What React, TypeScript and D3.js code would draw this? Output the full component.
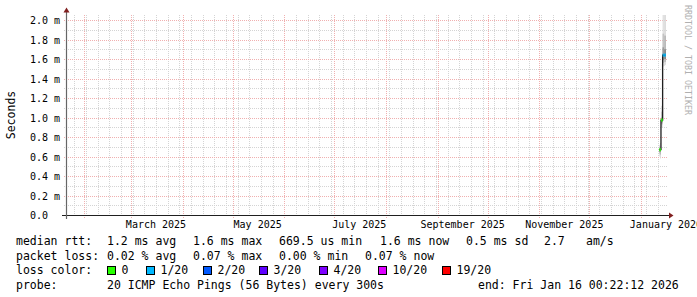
import React from "react";
import * as d3 from "d3";

// ---- data ----
const START = "2025-01-21T00:22:12Z";
const END = "2026-01-16T00:22:12Z";

const yTickValues = [0, 0.2, 0.4, 0.6, 0.8, 1.0, 1.2, 1.4, 1.6, 1.8, 2.0]; // ms
const yTickLabels = ["0.0", "0.2 m", "0.4 m", "0.6 m", "0.8 m", "1.0 m", "1.2 m", "1.4 m", "1.6 m", "1.8 m", "2.0 m"];

const xLabelMonths = ["2025-03-01", "2025-05-01", "2025-07-01", "2025-09-01", "2025-11-01", "2026-01-01"];
const xLabels = ["March 2025", "May 2025", "July 2025", "September 2025", "November 2025", "January 2026"];

// 12h consolidated steps
const stepStarts = [
  "2026-01-12T00:00:00Z", "2026-01-12T12:00:00Z", "2026-01-13T00:00:00Z", "2026-01-13T12:00:00Z",
  "2026-01-14T00:00:00Z", "2026-01-14T12:00:00Z", "2026-01-15T00:00:00Z", "2026-01-15T12:00:00Z",
];
const medianMs = [0.6695, 0.6695, 0.974, 0.974, 1.64, 1.64, 1.64, 1.64];
const lossIdx = [0, 0, 0, 0, 1, 1, 1, 1];
const smokeOuterLo = [0.6, 0.58, 0.9, 0.9, 1.52, 1.53, 1.53, 1.54];
const smokeOuterHi = [0.72, 0.74, 1.12, 1.55, 2.2, 2.2, 2.2, 2.2];
const smokeMidLo = [0.63, 0.62, 0.93, 0.93, 1.56, 1.56, 1.57, 1.57];
const smokeMidHi = [0.7, 0.7, 1.06, 1.04, 1.86, 1.86, 1.84, 1.84];
const smokeInnerLo = [0.65, 0.65, 0.95, 0.95, 1.59, 1.59, 1.6, 1.6];
const smokeInnerHi = [0.68, 0.68, 1.0, 0.99, 1.72, 1.72, 1.7, 1.7];

const lossLabels = ["0", "1/20", "2/20", "3/20", "4/20", "10/20", "19/20"];
const lossColors = ["#26ff00", "#00b8ff", "#0059ff", "#5e00ff", "#7e00ff", "#dd00ff", "#ff0000"];

const row1 = ["median rtt:", "1.2 ms avg", "1.6 ms max", "669.5 us min", "1.6 ms now", "0.5 ms sd", "2.7", "am/s"];
const row2 = ["packet loss:", "0.02 % avg", "0.07 % max", "0.00 % min", "0.07 % now"];
const row3Label = "loss color:";
const row4 = ["probe:", "20 ICMP Echo Pings (56 Bytes) every 300s", "end: Fri Jan 16 00:22:12 2026"];

// ---- layout ----
const W = 697, H = 297;
const X0 = 66, X1 = 666, Y0 = 215, Y1 = 15;
const row1X = [16, 107, 193, 279, 380, 466, 544, 586];
const row2X = [16, 107, 193, 279, 365];
const row3BoxX = [107, 146, 203, 259, 319, 378, 442];
const row4X = [16, 107, 478];

const MONO = "'DejaVu Sans Mono', monospace";

export default function App() {
  const x = d3.scaleUtc().domain([new Date(START), new Date(END)]).range([X0, X1]);
  const y = d3.scaleLinear().domain([0, 2.0513]).range([Y0, Y1]);
  const start = new Date(START), end = new Date(END);
  const weeks = d3.utcSunday.range(start, end);
  const months = d3.utcMonth.range(start, end);
  const minorY = d3.range(1, 21, 2).map((v) => v / 10);
  const snap = (v: number) => Math.round(v) + 0.5;

  const minorCol = "#d4d4d4";
  const majorCol = "#f0b0b0";
  const dash = "1,1";

  const steps = stepStarts.map((s, i) => {
    const t0 = new Date(s);
    const t1 = new Date(t0.getTime() + 12 * 3600 * 1000);
    return { x0: x(t0), x1: x(t1), i };
  });

  // median line path (step)
  let medPath = "";
  steps.forEach((s, i) => {
    const yy = y(medianMs[i]);
    medPath += (i === 0 ? `M${s.x0},${yy}` : `L${s.x0},${yy}`) + `L${s.x1},${yy}`;
  });

  return (
    <svg width={W} height={H} style={{ position: "fixed", left: 0, top: 0, background: "#fff" }}>
      <rect x={0} y={0} width={W} height={H} fill="#fff" />
      {/* minor vertical grid (weeks) */}
      {weeks.map((d, i) => (
        <line key={"w" + i} x1={snap(x(d))} x2={snap(x(d))} y1={Y1} y2={Y0 + 2} stroke={minorCol} strokeDasharray={dash} />
      ))}
      {/* minor horizontal grid */}
      {minorY.map((v, i) => (
        <line key={"mh" + i} x1={X0 - 2} x2={X1 + 2} y1={snap(y(v))} y2={snap(y(v))} stroke={minorCol} strokeDasharray={dash} />
      ))}
      {/* major vertical grid (months) */}
      {months.map((d, i) => (
        <line key={"m" + i} x1={snap(x(d))} x2={snap(x(d))} y1={Y1} y2={Y0 + 3} stroke={majorCol} strokeDasharray={dash} />
      ))}
      {/* major horizontal grid */}
      {yTickValues.map((v, i) => (
        <line key={"Mh" + i} x1={X0 - 2} x2={X1 + 2} y1={snap(y(v))} y2={snap(y(v))} stroke={majorCol} strokeDasharray={dash} />
      ))}
      {/* smoke */}
      {steps.map((s, i) => (
        <g key={"s" + i}>
          <rect x={s.x0} width={s.x1 - s.x0} y={y(Math.min(smokeOuterHi[i], 2.0513))} height={y(smokeOuterLo[i]) - y(Math.min(smokeOuterHi[i], 2.0513))} fill="#d8d8d8" />
          <rect x={s.x0} width={s.x1 - s.x0} y={y(smokeMidHi[i])} height={y(smokeMidLo[i]) - y(smokeMidHi[i])} fill="#b4b4b4" />
          <rect x={s.x0} width={s.x1 - s.x0} y={y(smokeInnerHi[i])} height={y(smokeInnerLo[i]) - y(smokeInnerHi[i])} fill="#808080" />
        </g>
      ))}
      {/* median */}
      <path d={medPath} fill="none" stroke="#202020" strokeWidth={1.3} />
      {steps.map((s, i) => (
        <rect key={"c" + i} x={s.x0} width={s.x1 - s.x0} y={y(medianMs[i]) - 1.5} height={3} fill={lossColors[lossIdx[i]]} />
      ))}
      {/* axes */}
      <line x1={X0 - 4} x2={X1 + 4} y1={Y0 + 0.5} y2={Y0 + 0.5} stroke="#1f1f1f" strokeWidth={1.2} />
      <line x1={X0 + 0.5} x2={X0 + 0.5} y1={Y0 + 4} y2={Y1 - 4} stroke="#666" strokeWidth={1.2} />
      <polygon points={`${X0 + 0.5 - 3},${Y1 - 2.5} ${X0 + 0.5 + 3},${Y1 - 2.5} ${X0 + 0.5},${Y1 - 7.5}`} fill="#801f1f" />
      <polygon points={`${X1 + 3},${Y0 + 0.5 - 3} ${X1 + 3},${Y0 + 0.5 + 3} ${X1 + 7.5},${Y0 + 0.5}`} fill="#801f1f" />
      {/* y labels */}
      {yTickValues.map((v, i) => (
        <text key={"yl" + i} x={30} y={y(v) + 4.3} fontFamily={MONO} fontSize={10} fill="#000">
          {yTickLabels[i]}
        </text>
      ))}
      {/* x labels */}
      {xLabelMonths.map((m, i) => {
        const t = new Date(new Date(m + "T00:00:00Z").getTime() + 15 * 86400000);
        return (
          <text key={"xl" + i} x={x(t)} y={227.5} fontFamily={MONO} fontSize={10} textAnchor="middle" fill="#000">
            {xLabels[i]}
          </text>
        );
      })}
      {/* vertical label */}
      <text transform={`translate(15,115) rotate(-90)`} fontFamily={MONO} fontSize={11.5} textAnchor="middle" fill="#000">
        Seconds
      </text>
      {/* watermark */}
      <text transform={`translate(684.5,5) rotate(90)`} fontFamily={MONO} fontSize={8.3} fill="#b0b0b0">
        RRDTOOL / TOBI OETIKER
      </text>
      {/* legend */}
      <g fontFamily={MONO} fontSize={11.5} fill="#000">
        {row1.map((t, i) => (
          <text key={"r1" + i} x={row1X[i]} y={245}>{t}</text>
        ))}
        {row2.map((t, i) => (
          <text key={"r2" + i} x={row2X[i]} y={259.5}>{t}</text>
        ))}
        <text x={16} y={274}>{row3Label}</text>
        {lossLabels.map((t, i) => (
          <g key={"r3" + i}>
            <rect x={row3BoxX[i] + 0.5} y={266.5} width={8} height={8} fill={lossColors[i]} stroke="#000" strokeWidth={1} />
            <text x={row3BoxX[i] + 14.5} y={274}>{t}</text>
          </g>
        ))}
        {row4.map((t, i) => (
          <text key={"r4" + i} x={row4X[i]} y={288.5}>{t}</text>
        ))}
      </g>
    </svg>
  );
}
